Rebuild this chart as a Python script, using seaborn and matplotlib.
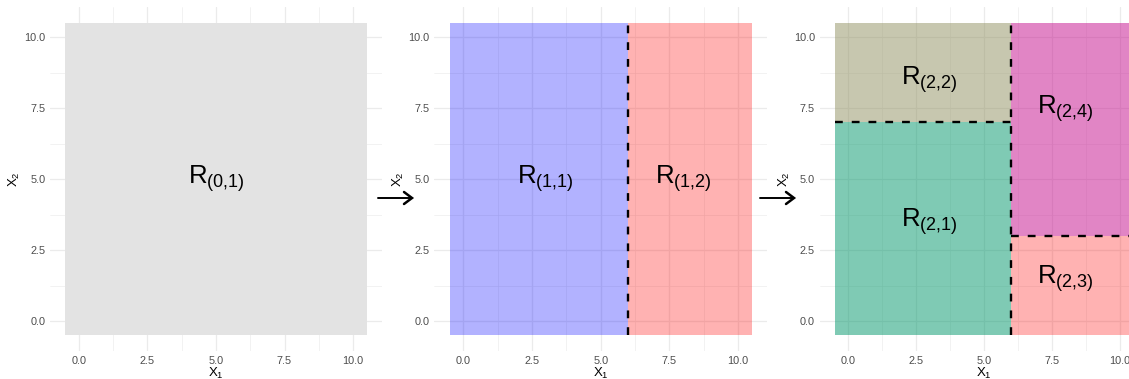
import matplotlib
matplotlib.use("Agg")
import matplotlib.pyplot as plt
from matplotlib.patches import Rectangle
import seaborn as sns

# Recursive binary splitting of the (X1, X2) feature space, three stages.
ticks = [0.0, 2.5, 5.0, 7.5, 10.0]
tick_labels = ["0.0", "2.5", "5.0", "7.5", "10.0"]
minor = [1.25, 3.75, 6.25, 8.75]
lims = (-1.05, 11.05)

# Stage 0: one region covering everything
s0_x0 = [-0.5]
s0_x1 = [10.5]
s0_y0 = [-0.5]
s0_y1 = [10.5]
s0_names = ["(0{,}1)"]
s0_lx = [5.0]
s0_ly = [5.0]
s0_colors = ["#E3E3E3"]
s0_alpha = [1.0]

# Stage 1: split on X1 = 6
s1_x0 = [-0.5, 6.0]
s1_x1 = [6.0, 10.5]
s1_y0 = [-0.5, -0.5]
s1_y1 = [10.5, 10.5]
s1_names = ["(1{,}1)", "(1{,}2)"]
s1_lx = [3.0, 8.0]
s1_ly = [5.0, 5.0]
s1_colors = ["#0000FF", "#FF0000"]
s1_alpha = [0.3, 0.3]
s1_seg_x = [[6.0, 6.0]]
s1_seg_y = [[-0.5, 10.5]]

# Stage 2: left split at X2 = 7, right split at X2 = 3
s2_x0 = [-0.5, -0.5, 6.0, 6.0]
s2_x1 = [6.0, 6.0, 10.5, 10.5]
s2_y0 = [-0.5, 7.0, -0.5, 3.0]
s2_y1 = [7.0, 10.5, 3.0, 10.5]
s2_names = ["(2{,}1)", "(2{,}2)", "(2{,}3)", "(2{,}4)"]
s2_lx = [3.0, 3.0, 8.0, 8.0]
s2_ly = [3.5, 8.5, 1.5, 7.5]
s2_colors = ["#01976A", "#919161", "#FF0000", "#C50D8D"]
s2_alpha = [0.5, 0.5, 0.3, 0.5]
s2_seg_x = [[6.0, 6.0], [-0.5, 6.0], [6.0, 10.5]]
s2_seg_y = [[-0.5, 10.5], [7.0, 7.0], [3.0, 3.0]]

sns.set_theme(style="whitegrid")
plt.rcParams["font.family"] = ["Liberation Sans", "DejaVu Sans"]
plt.rcParams["mathtext.fontset"] = "custom"
plt.rcParams["mathtext.rm"] = "Liberation Sans"
plt.rcParams["mathtext.it"] = "Liberation Sans:italic"
plt.rcParams["mathtext.bf"] = "Liberation Sans:bold"

W, H = 1129, 379
fig = plt.figure(figsize=(W / 100, H / 100), dpi=100)
fig.patch.set_facecolor("white")

# panel boxes in pixels: left, width
boxes = [(50.2, 331.6), (434.4, 332.6), (819.8, 328.7)]
top_px, bot_px = 7.5, 350.8

stages = [
    (s0_x0, s0_x1, s0_y0, s0_y1, s0_names, s0_lx, s0_ly, s0_colors, s0_alpha, [], []),
    (s1_x0, s1_x1, s1_y0, s1_y1, s1_names, s1_lx, s1_ly, s1_colors, s1_alpha, s1_seg_x, s1_seg_y),
    (s2_x0, s2_x1, s2_y0, s2_y1, s2_names, s2_lx, s2_ly, s2_colors, s2_alpha, s2_seg_x, s2_seg_y),
]

for (left, width), st in zip(boxes, stages):
    x0, x1, y0, y1, names, lx, ly, cols, alph, segx, segy = st
    ax = fig.add_axes([left / W, (H - bot_px) / H, width / W, (bot_px - top_px) / H])
    ax.set_facecolor("white")
    ax.set_xlim(*lims)
    ax.set_ylim(*lims)
    ax.set_axisbelow(True)
    ax.set_xticks(ticks)
    ax.set_yticks(ticks)
    ax.set_xticks(minor, minor=True)
    ax.set_yticks(minor, minor=True)
    ax.set_xticklabels(tick_labels)
    ax.set_yticklabels(tick_labels)
    ax.grid(which="major", color="#EBEBEB", lw=0.9)
    ax.grid(which="minor", color="#EBEBEB", lw=0.45)
    ax.tick_params(which="both", length=0, labelsize=7.8, labelcolor="#4D4D4D", pad=3.5)
    for sp in ax.spines.values():
        sp.set_visible(False)
    for a, b, c, d, col, al in zip(x0, x1, y0, y1, cols, alph):
        ax.add_patch(Rectangle((a, c), b - a, d - c, facecolor=col, alpha=al,
                               edgecolor="none", zorder=2))
    for xs, ys in zip(segx, segy):
        ax.plot(xs, ys, color="black", lw=1.7, dashes=(3.3, 3.8), zorder=3,
                dash_capstyle="butt")
    for n, x, y in zip(names, lx, ly):
        ax.text(x, y, r"$\mathrm{R}_{" + n + "}$", fontsize=18.5, ha="center",
                va="center", color="black", zorder=4)
    ax.set_xlabel(r"$\mathrm{X}_1$", fontsize=9.5, labelpad=0, color="black")
    ax.set_ylabel(r"$\mathrm{X}_2$", fontsize=9.5, labelpad=1.5, color="black")

# arrows between the stages
for xs in [378.0, 760.0]:
    fig.add_artist(plt.Line2D([xs / W, (xs + 33) / W], [1 - 198 / H, 1 - 198 / H],
                              transform=fig.transFigure, color="black", lw=1.4))
    fig.add_artist(plt.Line2D([(xs + 26) / W, (xs + 34) / W, (xs + 26) / W],
                              [1 - 192 / H, 1 - 198 / H, 1 - 204 / H],
                              transform=fig.transFigure, color="black", lw=1.8,
                              solid_joinstyle="miter"))

fig.savefig("out.png", dpi=100)
